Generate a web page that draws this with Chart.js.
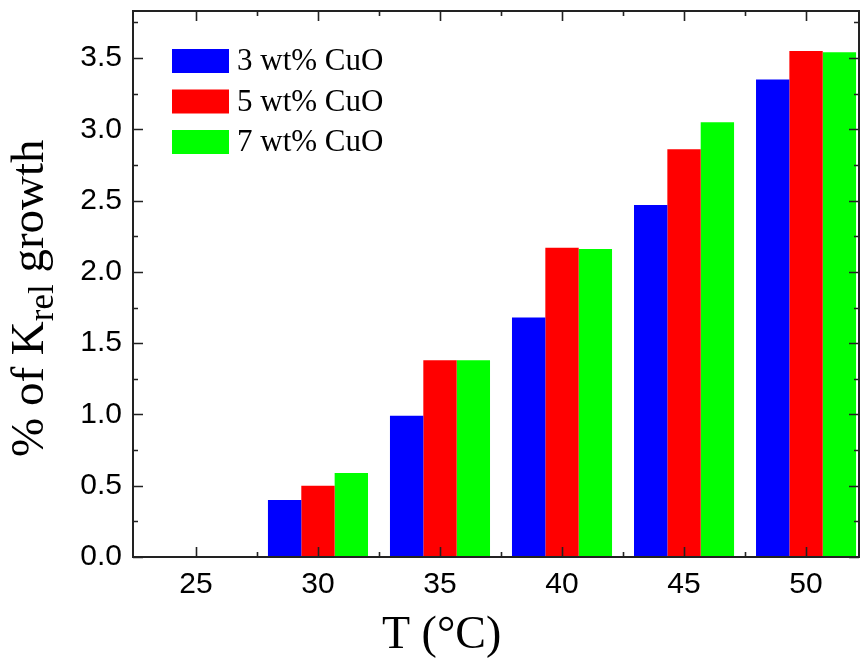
<!DOCTYPE html>
<html>
<head>
<meta charset="utf-8">
<script src="https://cdn.jsdelivr.net/npm/chart.js@4"></script>
<style>
  html, body { margin: 0; padding: 0; background: #fff; }
  canvas { display: block; }
</style>
</head>
<body>
<canvas id="c" width="860" height="659"></canvas>
<script>
// ---- data ----
const temps = [25, 30, 35, 40, 45, 50];
const cuo3 = [0, 0.40, 0.99, 1.68, 2.47, 3.35];
const cuo5 = [0, 0.50, 1.38, 2.17, 2.86, 3.55];
const cuo7 = [0, 0.59, 1.38, 2.16, 3.05, 3.54];
const seriesLabels = ['3 wt% CuO', '5 wt% CuO', '7 wt% CuO'];
const xTicks = [25, 30, 35, 40, 45, 50];
const yTicks = [0, 0.5, 1.0, 1.5, 2.0, 2.5, 3.0, 3.5];

const colors = ['#0000ff', '#ff0000', '#00ff00'];
const axisColor = '#222';

function pts(vals) { return temps.map((t, i) => ({ x: t, y: vals[i] })); }

const framePlugin = {
  id: 'frame',
  afterDatasetsDraw(chart) {
    const { ctx, chartArea: a, scales: { x, y } } = chart;
    ctx.save();
    ctx.strokeStyle = axisColor;
    ctx.lineWidth = 2;
    ctx.strokeRect(a.left, a.top, a.right - a.left, a.bottom - a.top);
    ctx.lineWidth = 1.6;
    ctx.beginPath();
    for (let v = 25; v <= 50.01; v += 2.5) {
      const px = Math.round(x.getPixelForValue(v)) + 0.5;
      const len = (Math.abs(v % 5) < 1e-6) ? 10 : 5;
      ctx.moveTo(px, a.bottom); ctx.lineTo(px, a.bottom - len);
      ctx.moveTo(px, a.top); ctx.lineTo(px, a.top + len);
    }
    for (let v = 0; v <= 3.8; v += 0.25) {
      const py = Math.round(y.getPixelForValue(v)) + 0.5;
      const len = (Math.abs((v * 2) % 1) < 1e-6) ? 10 : 5;
      ctx.moveTo(a.left, py); ctx.lineTo(a.left + len, py);
      ctx.moveTo(a.right, py); ctx.lineTo(a.right - len, py);
    }
    ctx.stroke();
    ctx.restore();
  },
  afterDraw(chart) {
    const { ctx } = chart;
    ctx.save();
    ctx.fillStyle = '#000';
    const ds = chart.data.datasets;
    ctx.font = '31px "Liberation Serif", "Times New Roman", serif';
    ctx.textBaseline = 'middle';
    ctx.textAlign = 'left';
    ds.forEach((d, i) => {
      const cy = 61 + i * 40.5;
      ctx.fillStyle = d.backgroundColor;
      ctx.fillRect(172, cy - 12, 57, 24);
      ctx.fillStyle = '#000';
      ctx.fillText(d.label, 237, cy + 1);
    });
    ctx.font = '46px "Liberation Serif", "Times New Roman", serif';
    ctx.textBaseline = 'alphabetic';
    ctx.fillText('T (°C)', 382, 648);
    ctx.translate(43, 457);
    ctx.rotate(-Math.PI / 2);
    ctx.font = '47px "Liberation Serif", "Times New Roman", serif';
    let px = 0;
    const p1 = '% of K';
    ctx.fillText(p1, px, 0);
    px += ctx.measureText(p1).width;
    ctx.font = '35px "Liberation Serif", "Times New Roman", serif';
    ctx.fillText('rel', px, 10);
    px += ctx.measureText('rel').width;
    ctx.font = '47px "Liberation Serif", "Times New Roman", serif';
    ctx.fillText(' growth', px, 0);
    ctx.restore();
  }
};

new Chart(document.getElementById('c'), {
  type: 'bar',
  data: {
    datasets: [
      { label: seriesLabels[0], data: pts(cuo3), backgroundColor: colors[0] },
      { label: seriesLabels[1], data: pts(cuo5), backgroundColor: colors[1] },
      { label: seriesLabels[2], data: pts(cuo7), backgroundColor: colors[2] }
    ]
  },
  options: {
    responsive: false,
    animation: false,
    layout: { padding: { left: 0, top: 11, right: 1, bottom: 0 } },
    datasets: { bar: { categoryPercentage: 0.82, barPercentage: 1.0, borderWidth: 0 } },
    plugins: { legend: { display: false }, tooltip: { enabled: false } },
    scales: {
      x: {
        type: 'linear',
        min: 22.42,
        max: 52.17,
        offset: false,
        grid: { display: false, drawTicks: false },
        border: { display: false },
        afterBuildTicks(s) { s.ticks = xTicks.map(v => ({ value: v })); },
        afterFit(s) { s.height = 102; s.paddingLeft = 0; s.paddingRight = 0; },
        ticks: {
          padding: 10,
          color: '#000',
          font: { family: '"Liberation Sans", Arial, sans-serif', size: 30 },
          callback: v => String(v)
        }
      },
      y: {
        min: 0,
        max: 3.83,
        grid: { display: false, drawTicks: false },
        border: { display: false },
        afterBuildTicks(s) { s.ticks = yTicks.map(v => ({ value: v })); },
        afterFit(s) { s.width = 133; s.paddingTop = 0; s.paddingBottom = 0; },
        ticks: {
          padding: 11,
          color: '#000',
          font: { family: '"Liberation Sans", Arial, sans-serif', size: 30 },
          callback: v => Number(v).toFixed(1)
        }
      }
    }
  },
  plugins: [framePlugin]
});
</script>
</body>
</html>
